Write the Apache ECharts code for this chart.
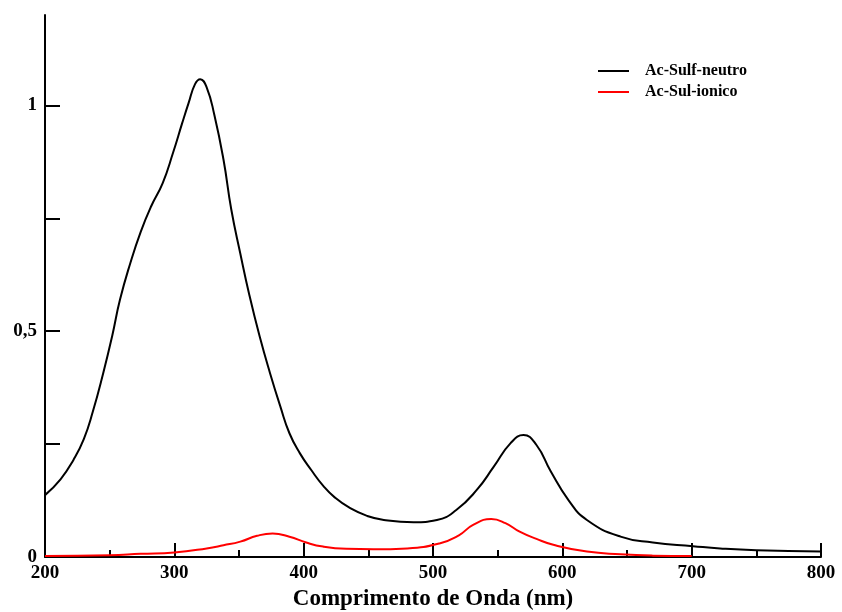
<!DOCTYPE html>
<html>
<head>
<meta charset="utf-8">
<script src="https://cdn.jsdelivr.net/npm/echarts@6/dist/echarts.min.js"></script>
<style>
	html, body { margin: 0; padding: 0; background: #fff; }
	#chart { width: 842px; height: 612px; }
</style>
</head>
<body>
<div id="chart"></div>
<script>
var neutroX = [200, 212, 222, 230, 237, 245, 252, 258, 266, 274, 282, 291, 299, 306, 311, 316, 320, 325, 331, 338, 344, 351, 358, 366, 374, 382, 389, 397, 406, 415, 424, 436, 449, 462, 485, 503, 518, 534, 547, 560, 570, 580, 591, 605, 619, 645, 670, 701, 722, 750, 800];
var neutroY = [0.137, 0.172, 0.215, 0.261, 0.322, 0.407, 0.490, 0.570, 0.651, 0.720, 0.776, 0.828, 0.895, 0.960, 1.005, 1.047, 1.058, 1.040, 0.978, 0.880, 0.770, 0.672, 0.580, 0.488, 0.407, 0.333, 0.274, 0.230, 0.192, 0.158, 0.132, 0.108, 0.091, 0.082, 0.077, 0.082, 0.104, 0.149, 0.200, 0.252, 0.270, 0.248, 0.190, 0.125, 0.082, 0.045, 0.032, 0.024, 0.019, 0.015, 0.012];
var ionicoX = [200, 250, 274, 300, 325, 338, 351, 364, 376, 389, 402, 415, 433, 454, 480, 505, 520, 531, 545, 556, 567, 580, 593, 619, 645, 670, 700];
var ionicoY = [0.002, 0.004, 0.007, 0.010, 0.019, 0.026, 0.034, 0.047, 0.052, 0.045, 0.032, 0.023, 0.018, 0.017, 0.019, 0.030, 0.048, 0.071, 0.084, 0.075, 0.056, 0.040, 0.027, 0.012, 0.006, 0.003, 0.002];
var seriesNames = ['Ac-Sulf-neutro', 'Ac-Sul-ionico'];
var yTicks = [0, 0.25, 0.5, 0.75, 1];
var yLabels = [0, 0.5, 1];

function pairs(xs, ys) {
	var out = [];
	for (var i = 0; i < xs.length; i++) out.push([xs[i], ys[i]]);
	return out;
}

var font = 'Liberation Serif';
var myChart = echarts.init(document.getElementById('chart'), null, {renderer: 'canvas'});
var option = {
	animation: false,
	backgroundColor: '#fff',
	grid: {left: 45, right: 21, top: 15, bottom: 55, outerBoundsMode: 'none', containLabel: false},
	legend: {
		data: seriesNames,
		orient: 'vertical',
		left: 593,
		top: 58,
		icon: 'rect',
		itemWidth: 31,
		itemHeight: 2,
		itemGap: 5,
		textStyle: {fontFamily: font, fontWeight: 'bold', fontSize: 16, color: '#000', padding: [0, 0, 0, 11]}
	},
	xAxis: {
		type: 'value',
		min: 200,
		max: 800,
		interval: 100,
		name: 'Comprimento de Onda (nm)',
		nameLocation: 'middle',
		nameGap: 29,
		nameTextStyle: {fontFamily: font, fontWeight: 'bold', fontSize: 23, color: '#000'},
		axisLine: {lineStyle: {color: '#000', width: 2}},
		axisTick: {inside: true, length: 14, lineStyle: {color: '#000', width: 2}},
		minorTick: {show: true, splitNumber: 2, length: 7, lineStyle: {color: '#000', width: 2}},
		splitLine: {show: false},
		axisLabel: {fontFamily: font, fontWeight: 'bold', fontSize: 19, color: '#000', margin: 7}
	},
	yAxis: {
		type: 'value',
		min: 0,
		max: 1.2,
		axisLine: {lineStyle: {color: '#000', width: 2}},
		axisTick: {inside: true, length: 15, customValues: yTicks, lineStyle: {color: '#000', width: 2}},
		splitLine: {show: false},
		axisLabel: {
			customValues: yLabels,
			fontFamily: font, fontWeight: 'bold', fontSize: 19, color: '#000', margin: 8,
			formatter: function (v) { return String(v).replace('.', ','); }
		}
	},
	series: [
		{
			name: seriesNames[0],
			type: 'line',
			data: pairs(neutroX, neutroY),
			smooth: 0.5,
			symbol: 'none',
			lineStyle: {color: '#000', width: 2},
			itemStyle: {color: '#000'}
		},
		{
			name: seriesNames[1],
			type: 'line',
			data: pairs(ionicoX, ionicoY),
			smooth: 0.5,
			symbol: 'none',
			lineStyle: {color: '#ff0000', width: 2},
			itemStyle: {color: '#ff0000'}
		}
	]
};
myChart.setOption(option);
</script>
</body>
</html>
